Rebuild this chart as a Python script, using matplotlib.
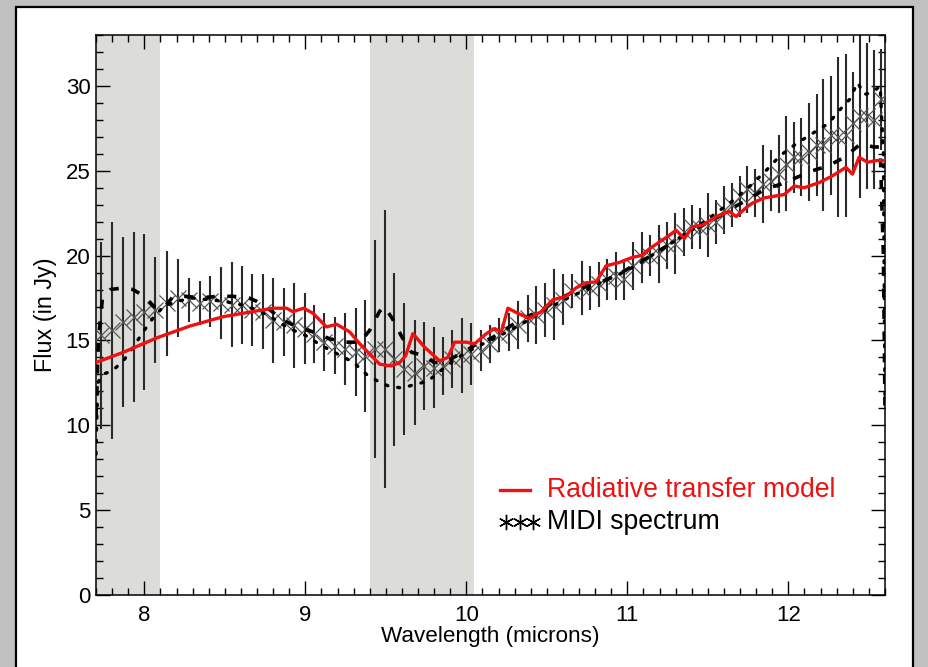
import matplotlib
matplotlib.use("Agg")
import matplotlib.pyplot as plt
from matplotlib.patches import Rectangle
from matplotlib.ticker import MultipleLocator

plt.rcParams['font.family'] = ['Liberation Sans', 'DejaVu Sans']

# MIDI spectrum: wavelength (microns), flux (Jy) and 1-sigma error
wavelength = [7.731, 7.801, 7.866, 7.934, 8.000, 8.066, 8.142, 8.209, 8.277, 8.345,
              8.409, 8.475, 8.542, 8.604, 8.670, 8.736, 8.800, 8.868, 8.928, 8.995,
              9.052, 9.119, 9.185, 9.247, 9.313, 9.371, 9.431, 9.495, 9.553, 9.614,
              9.680, 9.737, 9.797, 9.855, 9.913, 9.972, 10.031, 10.088, 10.146, 10.204,
              10.264, 10.322, 10.380, 10.434, 10.487, 10.547, 10.599, 10.657, 10.717, 10.769,
              10.822, 10.874, 10.930, 10.982, 11.033, 11.091, 11.141, 11.194, 11.244, 11.298,
              11.350, 11.402, 11.451, 11.501, 11.551, 11.600, 11.652, 11.701, 11.745, 11.792,
              11.844, 11.895, 11.939, 11.987, 12.034, 12.078, 12.129, 12.175, 12.216, 12.264,
              12.311, 12.357, 12.402, 12.444, 12.491, 12.533, 12.575]
flux = [15.3, 15.6, 16.1, 16.4, 16.7, 16.8, 17.2, 17.5, 17.4, 17.2,
        17.3, 17.2, 17.1, 17.1, 16.8, 16.7, 16.2, 16.1, 15.9, 15.7,
        15.4, 14.9, 14.7, 14.5, 14.3, 14.1, 14.5, 14.5, 13.9, 13.3,
        13.1, 13.5, 13.4, 13.5, 13.9, 14.1, 14.2, 14.4, 14.8, 15.3,
        15.5, 15.9, 16.3, 16.5, 16.8, 17.1, 17.4, 17.9, 18.1, 18.1,
        18.3, 18.6, 18.8, 18.6, 19.4, 19.9, 20.0, 20.1, 20.6, 20.7,
        21.4, 21.7, 21.6, 21.8, 22.0, 22.7, 23.0, 23.5, 23.9, 23.7,
        24.2, 24.4, 24.8, 25.4, 25.8, 25.8, 26.1, 26.5, 26.5, 27.1,
        27.0, 27.1, 27.8, 28.2, 28.2, 28.0, 29.2]
flux_err = [5.5, 6.4, 5.0, 5.0, 4.6, 3.1, 3.1, 2.3, 1.3, 1.3,
            1.5, 2.1, 2.5, 2.3, 2.1, 2.2, 2.5, 2.0, 2.5, 2.1,
            1.7, 1.7, 1.7, 2.1, 2.6, 3.3, 6.4, 8.2, 5.1, 3.9,
            3.1, 2.6, 2.4, 1.7, 1.7, 2.2, 1.8, 1.2, 1.1, 1.0,
            1.1, 1.4, 1.4, 1.7, 1.6, 2.1, 1.5, 1.0, 1.6, 1.3,
            1.3, 1.2, 1.4, 1.2, 1.4, 1.5, 1.2, 1.7, 1.4, 1.8,
            1.4, 1.3, 1.2, 1.9, 1.3, 1.4, 1.3, 1.2, 1.4, 1.4,
            2.3, 1.8, 2.3, 2.8, 2.1, 2.3, 2.9, 3.0, 3.9, 3.5,
            4.7, 4.8, 3.0, 4.8, 4.3, 4.1, 3.0]

# Individual spectra (two beams), drawn dashed and dotted
beam_a_wl = [7.700, 7.715, 7.740, 7.790, 7.870, 7.930, 8.000, 8.060, 8.120, 8.180,
             8.260, 8.350, 8.450, 8.550, 8.650, 8.700, 8.780, 8.860, 8.950, 9.050,
             9.150, 9.250, 9.340, 9.400, 9.460, 9.490, 9.540, 9.600, 9.660, 9.740,
             9.800, 9.870, 9.920, 10.00, 10.08, 10.15, 10.25, 10.35, 10.45, 10.55,
             10.65, 10.75, 10.85, 10.95, 11.05, 11.15, 11.25, 11.35, 11.45, 11.55,
             11.65, 11.75, 11.85, 11.95, 12.05, 12.15, 12.25, 12.35, 12.45, 12.53,
             12.57, 12.59, 12.60]
beam_a_flux = [10.5, 15.0, 17.5, 18.0, 18.1, 18.0, 17.6, 17.0, 16.9, 17.6,
               17.6, 17.5, 17.6, 17.6, 17.5, 17.3, 16.8, 16.2, 15.8, 15.5,
               15.1, 14.9, 14.9, 15.6, 16.7, 17.0, 16.3, 15.2, 14.3, 14.1,
               13.7, 13.7, 14.0, 14.4, 14.9, 15.1, 15.7, 16.3, 16.7, 17.3,
               17.8, 18.2, 18.5, 18.9, 19.5, 20.0, 20.6, 21.2, 21.7, 22.2,
               22.8, 23.3, 23.9, 24.2, 24.6, 25.0, 25.3, 25.8, 26.6, 26.4,
               26.4, 20.0, 11.0]
beam_b_wl = [7.700, 7.705, 7.712, 7.740, 7.800, 7.870, 7.930, 8.000, 8.060, 8.120,
             8.200, 8.300, 8.400, 8.500, 8.600, 8.700, 8.800, 8.900, 9.000, 9.100,
             9.200, 9.300, 9.380, 9.450, 9.520, 9.600, 9.680, 9.760, 9.840, 9.920,
             10.00, 10.08, 10.15, 10.25, 10.35, 10.45, 10.55, 10.65, 10.75, 10.85,
             10.95, 11.05, 11.15, 11.25, 11.35, 11.45, 11.55, 11.65, 11.75, 11.85,
             11.95, 12.05, 12.15, 12.25, 12.32, 12.38, 12.43, 12.47, 12.52, 12.57,
             12.59, 12.60]
beam_b_flux = [8.3, 10.5, 12.5, 13.0, 13.2, 13.8, 14.6, 15.6, 16.4, 17.0,
               17.3, 17.5, 17.4, 17.3, 17.1, 16.8, 16.3, 15.7, 15.3, 14.7,
               14.2, 13.7, 13.0, 12.6, 12.3, 12.2, 12.4, 12.6, 13.2, 13.8,
               14.3, 14.7, 15.0, 15.5, 16.0, 16.6, 17.1, 17.6, 18.0, 18.5,
               18.9, 19.4, 20.0, 20.6, 21.2, 21.8, 22.5, 23.2, 24.0, 24.9,
               25.9, 26.6, 27.2, 27.8, 28.6, 29.2, 30.2, 29.5, 29.6, 30.0,
               26.0, 11.6]

# Radiative transfer model
model_wl = [7.700, 7.869, 8.077, 8.283, 8.490, 8.674, 8.800, 8.883, 8.922, 8.990,
            9.048, 9.131, 9.195, 9.276, 9.338, 9.400, 9.462, 9.534, 9.586, 9.623,
            9.668, 9.741, 9.834, 9.886, 9.927, 10.000, 10.051, 10.124, 10.175, 10.217,
            10.258, 10.320, 10.392, 10.465, 10.537, 10.620, 10.682, 10.744, 10.806, 10.868,
            10.951, 11.033, 11.085, 11.137, 11.199, 11.261, 11.302, 11.354, 11.405, 11.467,
            11.551, 11.633, 11.675, 11.747, 11.778, 11.850, 11.974, 12.036, 12.098, 12.191,
            12.274, 12.357, 12.398, 12.439, 12.491, 12.543, 12.600]
model_flux = [13.7, 14.3, 15.15, 15.85, 16.4, 16.7, 16.9, 16.9, 16.7, 16.9,
              16.6, 15.8, 15.95, 15.5, 14.8, 14.2, 13.6, 13.5, 13.7, 14.1,
              15.4, 14.6, 13.8, 14.0, 14.9, 14.9, 14.8, 15.4, 15.7, 15.5,
              16.9, 16.6, 16.3, 16.7, 17.4, 17.6, 18.1, 18.4, 18.45, 19.4,
              19.6, 19.9, 20.0, 20.4, 20.8, 21.2, 21.5, 21.0, 21.7, 21.8,
              22.3, 22.6, 22.3, 22.9, 23.1, 23.4, 23.6, 24.1, 24.0, 24.3,
              24.7, 25.2, 24.8, 25.8, 25.5, 25.6, 25.6]

# Wavelength ranges affected by atmospheric absorption
shaded_ranges = [(7.7, 8.1), (9.4, 10.05)]

x_ticks = [8, 9, 10, 11, 12]
y_ticks = [0, 5, 10, 15, 20, 25, 30]

fig = plt.figure(figsize=(9.29, 6.67), dpi=100, facecolor='#c0c0c0')

# white slide panel behind the plot
panel = Rectangle((16 / 929, -0.02), (913 - 16) / 929, 1.02 - 7 / 667,
                  transform=fig.transFigure, facecolor='white',
                  edgecolor='black', linewidth=1.6, zorder=-10)
fig.add_artist(panel)

ax = fig.add_axes([96 / 929, 1 - 595 / 667, (885 - 96) / 929, (595 - 35) / 667])
ax.set_zorder(1)
ax.set_facecolor('white')

for lo, hi in shaded_ranges:
    ax.axvspan(lo, hi, color='#dcdcd8', lw=0, zorder=0)

ax.errorbar(wavelength, flux, yerr=flux_err, fmt='none', ecolor='#2a2a2a',
            elinewidth=1.5, capsize=0, zorder=2)
ax.plot(wavelength, flux, linestyle='none', marker='x', markersize=11,
        markeredgewidth=0.9, color='#555555', zorder=3)
ax.plot(beam_a_wl, beam_a_flux, color='black', lw=2.6,
        linestyle=(0, (2.5, 3.5)), zorder=4)
ax.plot(beam_b_wl, beam_b_flux, color='black', lw=2.4,
        linestyle=(0, (0.6, 3.0)), dash_capstyle='round', zorder=4)
ax.plot(model_wl, model_flux, color='#ee1111', lw=2.4, zorder=5)

ax.set_xlim(7.7, 12.6)
ax.set_ylim(0, 33)
ax.set_xticks(x_ticks)
ax.set_yticks(y_ticks)
ax.xaxis.set_minor_locator(MultipleLocator(0.1))
ax.yaxis.set_minor_locator(MultipleLocator(1))
ax.tick_params(which='both', direction='in', top=True, right=True,
               width=1.0, color='black')
ax.tick_params(which='major', length=10, labelsize=16)
ax.tick_params(axis='x', which='major', pad=7)
ax.tick_params(axis='y', which='major', pad=4)
ax.tick_params(which='minor', length=5)
for s in ax.spines.values():
    s.set_linewidth(1.1)

ax.set_xlabel('Wavelength (microns)', fontsize=16.2, labelpad=0)
ax.set_ylabel('Flux (in Jy)', fontsize=16.8, labelpad=6)

# legend drawn in axes coordinates
ax.plot([0.512, 0.550], [0.1875, 0.1875], transform=ax.transAxes,
        color='#ee1111', lw=2.4, zorder=6)
ax.text(0.572, 0.1875, 'Radiative transfer model', transform=ax.transAxes,
        color='#ee1111', fontsize=19.2, va='center', ha='left', zorder=6)
ax.plot([0.520, 0.537, 0.554], [0.130, 0.130, 0.130], transform=ax.transAxes,
        linestyle='none', marker=(6, 2, 0), markersize=11, markeredgewidth=1.0,
        color='black', zorder=6)
ax.text(0.572, 0.130, 'MIDI spectrum', transform=ax.transAxes,
        color='black', fontsize=19.2, va='center', ha='left', zorder=6)

fig.savefig('out.png', dpi=100, facecolor=fig.get_facecolor())
